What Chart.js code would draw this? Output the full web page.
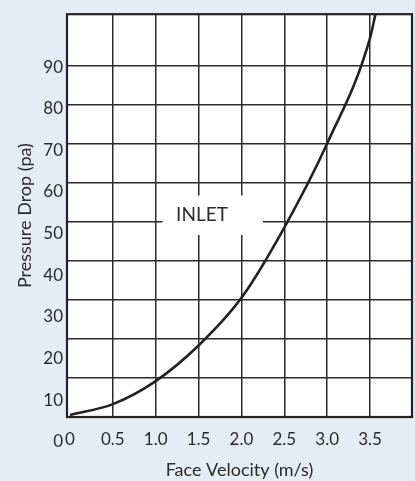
<!DOCTYPE html>
<html>
<head>
<meta charset="utf-8">
<script src="https://cdn.jsdelivr.net/npm/chart.js@4/dist/chart.umd.min.js"></script>
<style>
    html, body { margin: 0; padding: 0; background: #e4ecf5; }
    #wrap { width: 415px; height: 481px; }
</style>
</head>
<body>
<div id="wrap"><canvas id="mainChart" width="415" height="481"></canvas></div>
<script>
// Data
const velocity = [0, 0.5, 1.0, 1.5, 2.0, 2.5, 3.0, 3.5, 3.6];
const pressure = [0.5, 3.3, 9.2, 18.3, 30.5, 48.5, 70, 97, 107];

const xTicks = [0, 0.5, 1.0, 1.5, 2.0, 2.5, 3.0, 3.5];
const yGridTicks = [10, 20, 30, 40, 50, 60, 70, 80, 90];
const yLabelTicks = [0, 10, 20, 30, 40, 50, 60, 70, 80, 90];

const curveLabel = 'INLET';

const ink = '#2b2b2b';
const font = 'Lato, "Open Sans", sans-serif';

// Frame + INLET label
const framePlugin = {
    id: 'frame',
    beforeDatasetsDraw(chart) {
        const { ctx, scales } = chart;
        const x = scales.x, y = scales.y;
        // white box breaking the grid behind the label
        const x0 = x.getPixelForValue(1.08), x1 = x.getPixelForValue(2.25);
        const y0 = y.getPixelForValue(56.7), y1 = y.getPixelForValue(46.6);
        ctx.save();
        ctx.fillStyle = '#ffffff';
        ctx.fillRect(x0, y0, x1 - x0, y1 - y0);
        ctx.fillStyle = ink;
        ctx.font = '19px ' + font;
        ctx.textAlign = 'center';
        ctx.textBaseline = 'middle';
        ctx.fillText(curveLabel, x.getPixelForValue(1.54), y.getPixelForValue(51.7));
        ctx.restore();
    },
    afterDraw(chart) {
        const { ctx, chartArea: a } = chart;
        ctx.save();
        ctx.strokeStyle = '#222222';
        ctx.lineWidth = 2.2;
        ctx.strokeRect(a.left, a.top, a.right - a.left, a.bottom - a.top);
        ctx.restore();
    }
};

const plotBg = {
    id: 'plotBg',
    beforeDraw(chart) {
        const { ctx, chartArea: a } = chart;
        ctx.save();
        ctx.fillStyle = '#ffffff';
        ctx.fillRect(a.left, a.top, a.right - a.left, a.bottom - a.top);
        ctx.restore();
    }
};

// Chart
const ctx = document.getElementById('mainChart').getContext('2d');
new Chart(ctx, {
    type: 'line',
    data: {
        datasets: [{
            label: curveLabel,
            data: velocity.map((v, i) => ({ x: v, y: pressure[i] })),
            borderColor: '#222222',
            borderWidth: 2.6,
            pointRadius: 0,
            cubicInterpolationMode: 'monotone',
            fill: false
        }]
    },
    options: {
        responsive: false,
        animation: false,
        layout: { padding: { top: 8, right: 3, left: 0, bottom: 0 } },
        plugins: {
            legend: { display: false },
            tooltip: { enabled: false }
        },
        scales: {
            x: {
                type: 'linear',
                min: -0.035,
                max: 3.99,
                afterBuildTicks: s => { s.ticks = xTicks.map(v => ({ value: v })); },
                afterFit: s => { s.height = 64; },
                border: { display: false },
                grid: {
                    color: c => c.tick && c.tick.value === 0 ? 'rgba(0,0,0,0)' : ink,
                    lineWidth: 1.5,
                    drawTicks: false
                },
                ticks: {
                    color: ink,
                    font: { family: font, size: 17 },
                    padding: 12,
                    maxRotation: 0,
                    callback: v => v === 0 ? '0' : v.toFixed(1)
                },
                title: {
                    display: true,
                    text: 'Face Velocity (m/s)',
                    color: ink,
                    font: { family: font, size: 18 },
                    padding: { top: 9, bottom: 0 }
                }
            },
            y: {
                position: 'left',
                min: 0,
                max: 103.1,
                afterBuildTicks: s => { s.ticks = yGridTicks.map(v => ({ value: v })); },
                afterFit: s => { s.width = 0; },
                border: { display: false },
                grid: { color: ink, lineWidth: 1.5, drawTicks: false },
                ticks: { display: false }
            },
            y2: {
                position: 'left',
                min: 5.92,
                max: 102.7,
                afterBuildTicks: s => { s.ticks = yLabelTicks.map(v => ({ value: v })); },
                afterFit: s => { s.width = 67; },
                border: { display: false },
                grid: { display: false, drawTicks: false },
                ticks: {
                    color: ink,
                    font: { family: font, size: 17 },
                    padding: 4
                },
                title: {
                    display: true,
                    text: 'Pressure Drop (pa)',
                    color: ink,
                    font: { family: font, size: 18 },
                    padding: { top: 14, bottom: 0 }
                }
            }
        }
    },
    plugins: [plotBg, framePlugin]
});
</script>
</body>
</html>
